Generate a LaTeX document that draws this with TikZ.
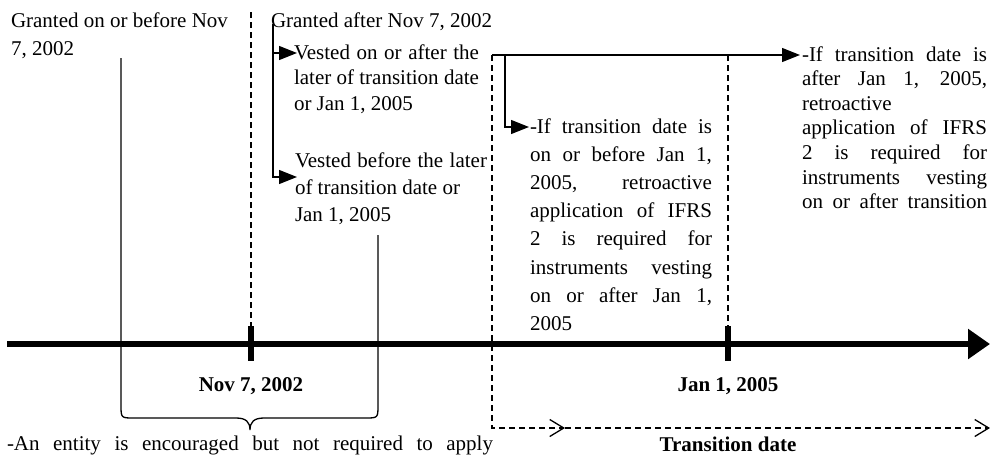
\documentclass[tikz,border=0pt]{standalone}
\usepackage{fontspec}
\setmainfont{Liberation Serif}
\usetikzlibrary{arrows.meta}

% a block of lines with a fixed first baseline and line pitch
\newcommand\textblock[3]{\parbox[t]{#1}{\setlength\baselineskip{#2}#3}}
% one fully justified line
\newcommand\fullline[1]{\makebox[\linewidth][s]{#1}\par}

\begin{document}
\begin{tikzpicture}[x=0.5pt,y=-0.5pt,
  every node/.style={inner sep=0pt, outer sep=0pt},
  txt/.style={anchor=base west, font=\fontsize{10.5pt}{12.75pt}\selectfont},
  datelbl/.style={anchor=base, font=\fontsize{10.5pt}{12.75pt}\selectfont\bfseries},
  thinline/.style={line width=0.65pt},
  guide/.style={line width=0.65pt, dash pattern=on 3pt off 2pt},
  fillarrow/.style={-{Triangle[length=9pt,width=7pt]}},
  openarrow/.style={-{Straight Barb[length=7pt,width=8.5pt,line width=0.65pt]}},
]
\useasboundingbox (0,0) rectangle (990,462);

% ---- time axis and its ticks
\coordinate (axisL) at (7,344);
\coordinate (axisR) at (990,344);
\coordinate (novT) at (251,326);
\coordinate (novB) at (251,361);
\coordinate (janT) at (728,326);
\coordinate (janB) at (728,361);
\draw[line width=3pt, -{Triangle[length=11pt,width=14.5pt]}] (axisL) -- (axisR);
\draw[line width=3pt] (novT) -- (novB);
\draw[line width=3pt] (janT) -- (janB);

% ---- dashed guides
\coordinate (novTop) at (251,12);
\coordinate (janTop) at (728,55);
\coordinate (corner) at (492,55);
\coordinate (trBot) at (492,428);
\coordinate (trMid) at (565,428);
\coordinate (trEnd) at (990,428);
\draw[guide] (novTop) -- (novT);
\draw[guide] (janTop) -- (janT);
\draw[guide, openarrow] (corner) -- (trBot) -- (trMid);
\draw[guide, openarrow] (trMid) -- (trEnd);

% ---- texts
\node[txt] (gBefore) at (11,27) {\textblock{120pt}{14pt}{Granted on or before Nov\\7, 2002}};
\node[txt] (gAfter) at (271,27) {Granted after Nov 7, 2002};
\node[txt] (vAfter) at (294,59) {\textblock{92.5pt}{12.75pt}{%
  \fullline{Vested on or after the}
  \fullline{later of transition date}
  or Jan 1, 2005}};
\node[txt] (vBefore) at (295,167) {\textblock{96pt}{13.5pt}{%
  \fullline{Vested before the later}
  of transition date or\par
  Jan 1, 2005}};
\node[txt] (early) at (530,133) {\textblock{91pt}{14.1pt}{%
  \fullline{-If transition date is}
  \fullline{on or before Jan 1,}
  \fullline{2005, retroactive}
  \fullline{application of IFRS}
  \fullline{2 is required for}
  \fullline{instruments vesting}
  \fullline{on or after Jan 1,}
  2005}};
\node[txt] (late) at (802,61) {\textblock{92.5pt}{12.3pt}{%
  \fullline{-If transition date is}
  \fullline{after Jan 1, 2005,}
  retroactive\par
  \fullline{application of IFRS}
  \fullline{2 is required for}
  \fullline{instruments vesting}
  \fullline{on or after transition}}};
\node[datelbl] (nov) at (251,391) {Nov 7, 2002};
\node[datelbl] (jan) at (728,391) {Jan 1, 2005};
\node[datelbl] (trans) at (728,451) {Transition date};
\node[txt] (encour) at (7,450) {\makebox[243pt][s]{-An entity is encouraged but not required to apply}};

% ---- branching arrows
\coordinate (split) at (273,24);
\coordinate (toVA) at (297,53);
\coordinate (toVB) at (297,177);
\draw[thinline, fillarrow] (split) |- (toVA);
\draw[thinline, fillarrow] (split) |- (toVB);

\coordinate (toLate) at (800,55);
\coordinate (drop) at (505,55);
\coordinate (toEarly) at (529,127);
\draw[thinline, fillarrow] (corner) -- (toLate);
\draw[thinline, fillarrow] (drop) |- (toEarly);

% ---- brace gathering the early grants
\coordinate (braceL) at (121,58);
\coordinate (braceR) at (378,235);
\coordinate (braceTip) at (250,430);
\draw[thinline] (braceL) -- (121,405) .. controls (121,418) .. (134,418) -- (236,418)
  .. controls (246,418) and (250,422) .. (braceTip)
  .. controls (250,422) and (254,418) .. (264,418) -- (365,418)
  .. controls (378,418) .. (378,405) -- (braceR);
\end{tikzpicture}
\end{document}
